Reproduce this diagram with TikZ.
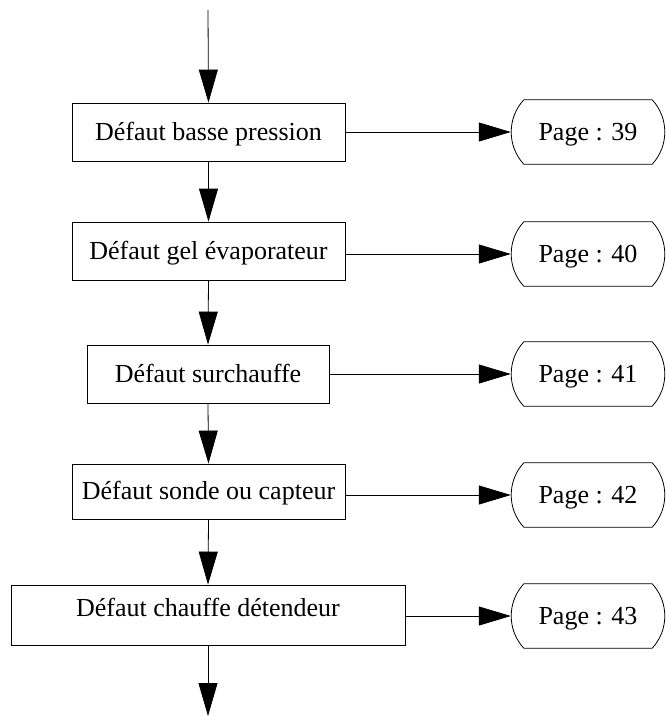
\documentclass[tikz,border=0pt]{standalone}
\usepackage{fontspec}
\setmainfont{Liberation Serif}
\usetikzlibrary{arrows.meta}
\begin{document}
\begin{tikzpicture}[x=1pt,y=-1pt,
  every node/.style={font=\fontsize{26}{30}\selectfont},
  box/.style={draw, line width=0.8pt, rectangle, inner sep=0pt, minimum height=58pt, text height=20pt, text depth=4pt},
  pillnode/.style={inner sep=0pt, minimum width=128pt, minimum height=64pt, text height=20pt, text depth=4pt},
  conn/.style={line width=0.8pt, -{Triangle[length=33pt,width=19pt]}},
  hconn/.style={line width=0.8pt, -{Triangle[length=32pt,width=19pt]}}
]
\useasboundingbox (0,0) rectangle (666,716);

\coordinate (top) at (208,10);
\coordinate (bot) at (208,716);

\node[box, minimum width=273pt] (b1) at (208.5,132) {Défaut basse pression};
\node[box, minimum width=273pt] (b2) at (208.5,251) {Défaut gel évaporateur};
\node[box, minimum width=242pt] (b3) at (208,374) {Défaut surchauffe};
\node[box, minimum width=273pt, minimum height=55pt] (b4) at (208.5,491.5) {Défaut sonde ou capteur};
\node[box, minimum width=394pt, minimum height=60pt, text depth=18pt] (b5) at (208,615) {Défaut chauffe détendeur};

\node[pillnode] (p1) at (588,132) {Page : 39};
\node[pillnode] (p2) at (588,254) {Page : 40};
\node[pillnode] (p3) at (588,374) {Page : 41};
\node[pillnode] (p4) at (588,495) {Page : 42};
\node[pillnode] (p5) at (588,616) {Page : 43};

\foreach \p in {p1,p2,p3,p4,p5}{
  \draw[line width=0.8pt] (\p.north west) -- (\p.north east)
    .. controls +(16.8pt,-18pt) and +(16.8pt,18pt) .. (\p.south east)
    -- (\p.south west)
    .. controls +(-16.8pt,18pt) and +(-16.8pt,-18pt) .. (\p.north west) -- cycle;
}

\draw[conn] (top) -- (b1.north);
\draw[conn] (b1.south) -- (b2.north);
\draw[conn] (b2.south) -- (b3.north);
\draw[conn] (b3.south) -- (b4.north);
\draw[conn] (b4.south) -- (b5.north);
\draw[conn] (b5.south) -- (bot);

\draw[hconn] (b1.east |- p1.west) -- ([xshift=-13pt]p1.west);
\draw[hconn] (b2.east |- p2.west) -- ([xshift=-13pt]p2.west);
\draw[hconn] (b3.east |- p3.west) -- ([xshift=-13pt]p3.west);
\draw[hconn] (b4.east |- p4.west) -- ([xshift=-13pt]p4.west);
\draw[hconn] (b5.east |- p5.west) -- ([xshift=-13pt]p5.west);
\end{tikzpicture}
\end{document}
